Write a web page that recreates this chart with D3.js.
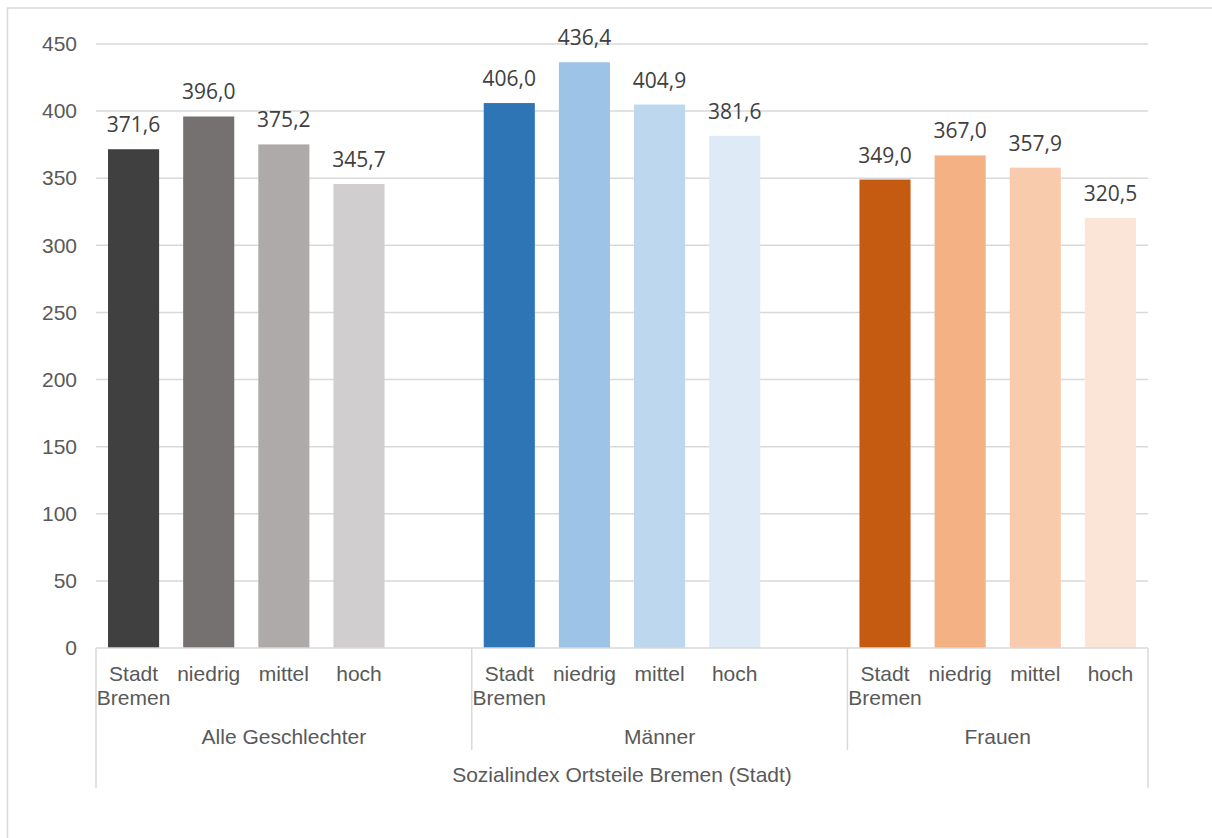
<!DOCTYPE html>
<html>
<head>
<meta charset="utf-8">
<script src="https://cdn.jsdelivr.net/npm/d3@7"></script>
<style>
  body { margin: 0; background: #fff; }
  svg { display: block; }
</style>
</head>
<body>
<div class="container"></div>
<script>
// chart data
const groups = ['Alle Geschlechter', 'Männer', 'Frauen'];
const levels = ['Stadt Bremen', 'niedrig', 'mittel', 'hoch'];
const alleValues = [371.6, 396.0, 375.2, 345.7];
const maennerValues = [406.0, 436.4, 404.9, 381.6];
const frauenValues = [349.0, 367.0, 357.9, 320.5];
const yTicks = [0, 50, 100, 150, 200, 250, 300, 350, 400, 450];
const outerLabel = 'Sozialindex Ortsteile Bremen (Stadt)';

const groupValues = [alleValues, maennerValues, frauenValues];
const groupColors = [
  ['#404040', '#767171', '#aeaaaa', '#d0cece'],
  ['#2e75b6', '#9dc3e6', '#bdd7ee', '#deebf7'],
  ['#c55a11', '#f4b183', '#f8cbad', '#fbe5d6']
];

const w = 1212,
    h = 838,
    plotLeft = 96,
    plotRight = 1148,
    plotTop = 44,
    base = 648;

const textColor = '#595959',
    lineColor = '#d9d9d9';

// slots: 4 levels per group, plus an empty slot between groups
const slots = [];
groups.forEach((g, gi) => {
  levels.forEach((l, li) => slots.push(`${gi}-${li}`));
  if (gi < groups.length - 1) slots.push(`${gi}-gap`);
});

const bars = [];
groups.forEach((g, gi) => {
  levels.forEach((l, li) => {
    bars.push({ group: gi, level: l, key: `${gi}-${li}`, value: groupValues[gi][li], color: groupColors[gi][li] });
  });
});

const svg = d3.select('.container')
  .append('svg')
  .attr('width', w)
  .attr('height', h);

// chart frame
svg.append('rect')
  .attr('x', 7.5)
  .attr('y', 8)
  .attr('width', w + 20)
  .attr('height', h + 20)
  .attr('fill', 'none')
  .attr('stroke', lineColor)
  .attr('stroke-width', 1.5);

const xScale = d3.scaleBand()
  .domain(slots)
  .range([plotLeft, plotRight])
  .padding(0);

const yScale = d3.scaleLinear()
  .domain([0, 450])
  .range([base, plotTop]);

// gridlines
svg.append('g')
  .selectAll('line')
  .data(yTicks.filter(d => d > 0))
  .enter()
  .append('line')
  .attr('x1', plotLeft)
  .attr('x2', plotRight)
  .attr('y1', d => yScale(d))
  .attr('y2', d => yScale(d))
  .attr('stroke', lineColor)
  .attr('stroke-width', 1.5);

// y axis
const yAxis = d3.axisLeft(yScale)
  .tickValues(yTicks)
  .tickSize(0)
  .tickPadding(19)
  .tickFormat(d3.format('d'));

const yG = svg.append('g')
  .attr('transform', `translate(${plotLeft}, 0)`)
  .call(yAxis);
yG.select('.domain').remove();
yG.selectAll('text')
  .attr('fill', textColor)
  .style('font-family', '"Liberation Sans", Arial, sans-serif')
  .style('font-size', '21px');

// bars
const barW = xScale.bandwidth() * 0.68;
svg.append('g')
  .selectAll('rect')
  .data(bars)
  .enter()
  .append('rect')
  .attr('x', d => xScale(d.key) + (xScale.bandwidth() - barW) / 2)
  .attr('y', d => yScale(d.value))
  .attr('width', barW)
  .attr('height', d => base - yScale(d.value))
  .attr('fill', d => d.color);

// data labels
svg.append('g')
  .selectAll('text')
  .data(bars)
  .enter()
  .append('text')
  .attr('x', d => xScale(d.key) + xScale.bandwidth() / 2)
  .attr('y', d => yScale(d.value) - 17)
  .attr('text-anchor', 'middle')
  .attr('fill', '#404040')
  .style('font-family', '"Open Sans", sans-serif')
  .style('font-size', '21px')
  .text(d => d3.format('.1f')(d.value).replace('.', ','));

// category axis line
svg.append('line')
  .attr('x1', plotLeft)
  .attr('x2', plotRight)
  .attr('y1', base)
  .attr('y2', base)
  .attr('stroke', lineColor)
  .attr('stroke-width', 1.5);

// separators between groups
const groupStarts = groups.map((g, gi) => xScale(`${gi}-0`));
svg.append('g')
  .selectAll('line')
  .data(groupStarts.slice(1))
  .enter()
  .append('line')
  .attr('x1', d => d)
  .attr('x2', d => d)
  .attr('y1', base)
  .attr('y2', 750)
  .attr('stroke', lineColor)
  .attr('stroke-width', 1.5);

svg.append('g')
  .selectAll('line')
  .data([plotLeft, plotRight])
  .enter()
  .append('line')
  .attr('x1', d => d)
  .attr('x2', d => d)
  .attr('y1', base)
  .attr('y2', 788)
  .attr('stroke', lineColor)
  .attr('stroke-width', 1.5);

const labelFont = '"Liberation Sans", Arial, sans-serif';

// level labels
const lvl = svg.append('g')
  .selectAll('text')
  .data(bars)
  .enter()
  .append('text')
  .attr('text-anchor', 'middle')
  .attr('fill', textColor)
  .style('font-family', labelFont)
  .style('font-size', '21px');

lvl.each(function(d) {
  const cx = xScale(d.key) + xScale.bandwidth() / 2;
  const words = d.level.split(' ');
  d3.select(this).selectAll('tspan')
    .data(words)
    .enter()
    .append('tspan')
    .attr('x', cx)
    .attr('y', (t, i) => 681 + i * 24)
    .text(t => t);
});

// group labels
svg.append('g')
  .selectAll('text')
  .data(groups)
  .enter()
  .append('text')
  .attr('x', (d, i) => {
    const end = i < groups.length - 1 ? groupStarts[i + 1] : plotRight;
    return (groupStarts[i] + end) / 2;
  })
  .attr('y', 744)
  .attr('text-anchor', 'middle')
  .attr('fill', textColor)
  .style('font-family', labelFont)
  .style('font-size', '21px')
  .text(d => d);

// outer label
svg.append('text')
  .attr('x', (plotLeft + plotRight) / 2)
  .attr('y', 782)
  .attr('text-anchor', 'middle')
  .attr('fill', textColor)
  .style('font-family', labelFont)
  .style('font-size', '21px')
  .text(outerLabel);
</script>
</body>
</html>
